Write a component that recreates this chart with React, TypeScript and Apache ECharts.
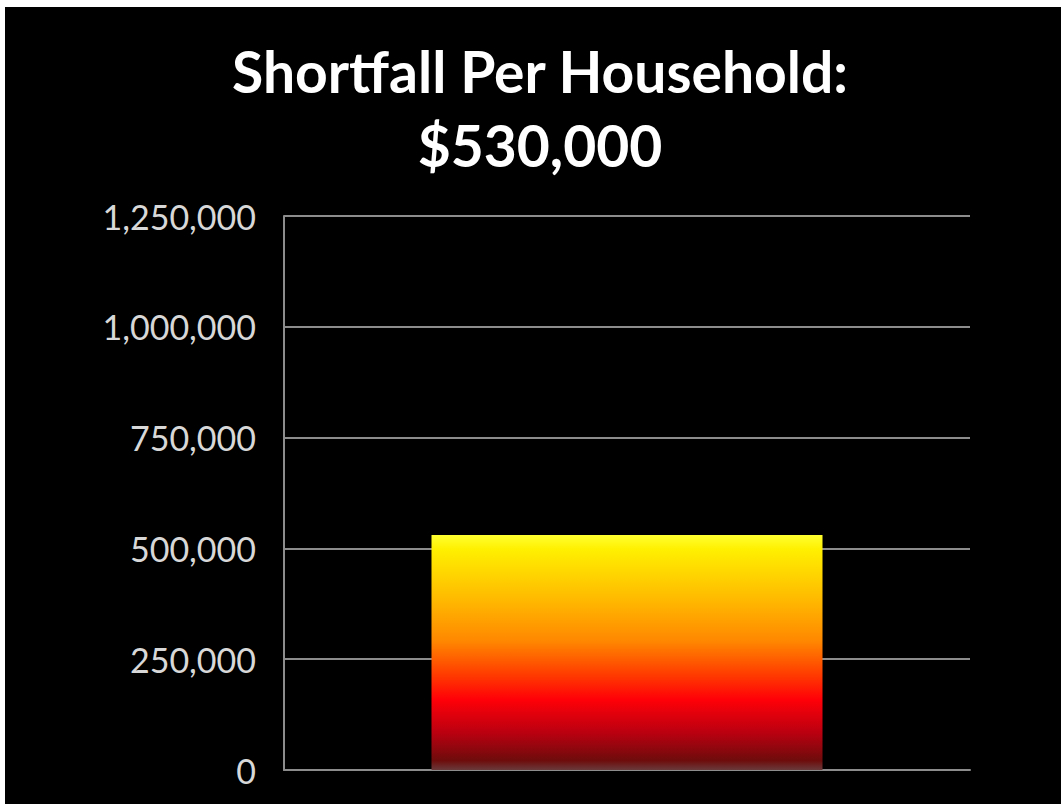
import React, { useEffect, useRef } from "react";
import * as echarts from "echarts";

const titleLines = ["Shortfall Per Household:", "$530,000"];
const categories = [""];
const shortfallValues = [530000];
const yTicks = [0, 250000, 500000, 750000, 1000000, 1250000];

const fmt = (v: number) => v.toLocaleString("en-US");

export default function App() {
  const ref = useRef<HTMLDivElement>(null);
  useEffect(() => {
    document.body.style.margin = "0";
    const chart = echarts.init(ref.current!, undefined, { renderer: "svg" });
    chart.setOption({
      animation: false,
      backgroundColor: "#000000",
      title: {
        text: titleLines.join("\n"),
        left: 530,
        top: 22,
        textAlign: "center",
        textStyle: {
          color: "#ffffff",
          fontFamily: "Lato",
          fontWeight: "bold",
          fontSize: 57,
          lineHeight: 74,
        },
      },
      grid: { left: 279, right: 91, top: 209, bottom: 34, containLabel: false },
      xAxis: {
        type: "category",
        data: categories,
        axisLine: { show: true, lineStyle: { color: "#8c8c8c", width: 2 } },
        axisTick: { show: false },
        axisLabel: { show: false },
      },
      yAxis: {
        type: "value",
        min: yTicks[0],
        max: yTicks[yTicks.length - 1],
        interval: yTicks[1] - yTicks[0],
        axisLine: { show: true, lineStyle: { color: "#8c8c8c", width: 2 } },
        axisTick: { show: false },
        splitLine: { show: true, lineStyle: { color: "#8c8c8c", width: 2 } },
        axisLabel: {
          color: "#d8d8d8",
          fontFamily: "Lato",
          fontSize: 34,
          margin: 28,
          formatter: (v: number) => fmt(v),
        },
      },
      series: [
        {
          type: "bar",
          data: shortfallValues,
          barWidth: "57%",
          itemStyle: {
            color: new echarts.graphic.LinearGradient(0, 0, 0, 1, [
              { offset: 0, color: "#ffff30" },
              { offset: 0.06, color: "#fff000" },
              { offset: 0.28, color: "#ffb800" },
              { offset: 0.45, color: "#ff8800" },
              { offset: 0.6, color: "#ff3800" },
              { offset: 0.7, color: "#ff0008" },
              { offset: 0.84, color: "#bb0010" },
              { offset: 0.96, color: "#6e0c0c" },
              { offset: 1, color: "#6a3a3a" },
            ]),
          },
        },
      ],
    });
    return () => chart.dispose();
  }, []);
  return (
    <div style={{ width: 1061, height: 804, background: "#ffffff", position: "relative" }}>
      <div
        ref={ref}
        style={{ position: "absolute", left: 5, top: 7, width: 1056, height: 797 }}
      />
    </div>
  );
}
